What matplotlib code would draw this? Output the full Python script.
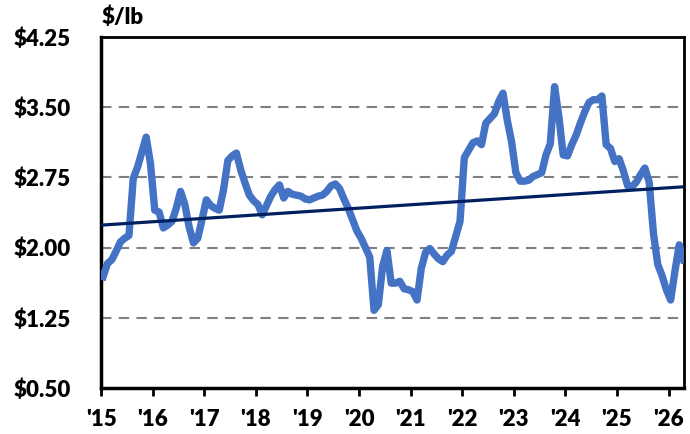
import matplotlib
matplotlib.use("Agg")
import matplotlib.pyplot as plt
import numpy as np

# monthly price, Jan 2015 .. Apr 2026 ($/lb)
price_2015 = [1.69, 1.83, 1.87, 1.96, 2.06, 2.10, 2.13, 2.74, 2.86, 3.02, 3.18, 2.90]
price_2016 = [2.40, 2.38, 2.21, 2.24, 2.28, 2.42, 2.60, 2.46, 2.22, 2.05, 2.10, 2.30]
price_2017 = [2.51, 2.45, 2.42, 2.40, 2.62, 2.93, 2.98, 3.01, 2.83, 2.69, 2.56, 2.50]
price_2018 = [2.46, 2.35, 2.45, 2.55, 2.62, 2.67, 2.53, 2.60, 2.57, 2.56, 2.55, 2.52]
price_2019 = [2.51, 2.53, 2.55, 2.56, 2.60, 2.66, 2.68, 2.63, 2.52, 2.42, 2.30, 2.18]
price_2020 = [2.10, 2.00, 1.90, 1.33, 1.39, 1.80, 1.97, 1.62, 1.62, 1.64, 1.56, 1.55]
price_2021 = [1.53, 1.44, 1.78, 1.95, 1.99, 1.93, 1.88, 1.85, 1.92, 1.96, 2.12, 2.28]
price_2022 = [2.96, 3.04, 3.12, 3.14, 3.10, 3.33, 3.38, 3.43, 3.56, 3.65, 3.36, 3.13]
price_2023 = [2.80, 2.71, 2.71, 2.72, 2.76, 2.78, 2.80, 2.99, 3.11, 3.72, 3.40, 2.99]
price_2024 = [2.98, 3.10, 3.20, 3.33, 3.45, 3.55, 3.58, 3.58, 3.62, 3.10, 3.06, 2.92]
price_2025 = [2.95, 2.82, 2.66, 2.65, 2.70, 2.78, 2.85, 2.70, 2.15, 1.82, 1.70, 1.55]
price_2026 = [1.44, 1.75, 2.03, 1.87]

prices = (price_2015 + price_2016 + price_2017 + price_2018 + price_2019 + price_2020
          + price_2021 + price_2022 + price_2023 + price_2024 + price_2025 + price_2026)

# trend line ends
trend_years = [2015.0, 2026.3]
trend_vals = [2.24, 2.65]

year_ticks = list(range(2015, 2027))
year_labels = ["'%02d" % (y % 100) for y in year_ticks]
y_ticks = [0.50, 1.25, 2.00, 2.75, 3.50, 4.25]

x = 2015 + (np.arange(len(prices)) + 0.5) / 12.0

plt.rcParams['font.family'] = ['Lato', 'DejaVu Sans']
FS = 16
FW = 'heavy'

fig = plt.figure(figsize=(6.9, 4.34), dpi=100)
ax = fig.add_axes([0.1464, 0.106, 0.8449, 0.8087])

for yv in y_ticks[1:-1]:
    ax.axhline(yv, color='#808080', lw=1.5, ls=(0, (5, 3.5)), zorder=1)

ax.plot(x, prices, color='#4472C4', lw=5.3, solid_joinstyle='round', zorder=3)
ax.plot(trend_years, trend_vals, color='#002060', lw=2.3, zorder=4)

ax.set_xlim(2015, 2026.3)
ax.set_ylim(0.5, 4.25)
ax.set_xticks(year_ticks)
ax.set_xticklabels(year_labels, fontsize=FS, fontweight=FW)
ax.set_yticks(y_ticks)
ax.set_yticklabels(['$%.2f' % v for v in y_ticks], fontsize=FS, fontweight=FW)
ax.tick_params(axis='y', length=0, pad=22)
ax.tick_params(axis='x', length=6, width=2, pad=9)

for s in ['left', 'bottom']:
    ax.spines[s].set_linewidth(2.5)
for s in ['top', 'right']:
    ax.spines[s].set_linewidth(2)
for s in ax.spines.values():
    s.set_color('black')

ax.text(0.0, 1.025, '$/lb', transform=ax.transAxes, fontsize=FS,
        fontweight=FW, ha='left', va='bottom')

fig.savefig('out.png', dpi=100)
